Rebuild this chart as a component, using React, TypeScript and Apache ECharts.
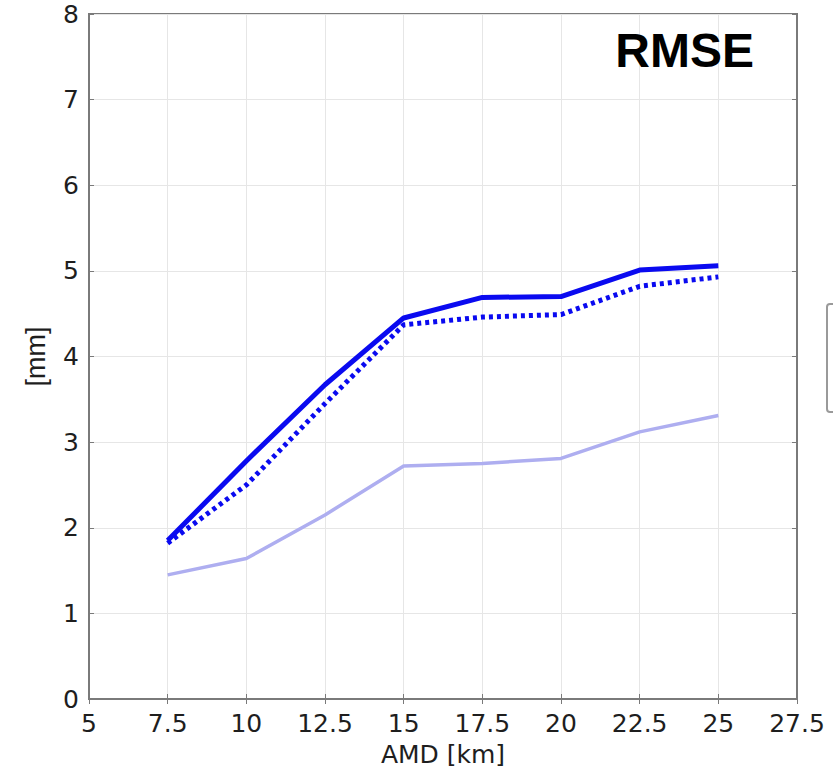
import React, { useEffect, useRef } from "react";
import * as echarts from "echarts";

const xValues = [7.5, 10, 12.5, 15, 17.5, 20, 22.5, 25];
const solidSeries = [1.85, 2.78, 3.67, 4.45, 4.69, 4.70, 5.01, 5.06];
const dottedSeries = [1.82, 2.50, 3.45, 4.37, 4.46, 4.49, 4.82, 4.93];
const lightSeries = [1.45, 1.64, 2.15, 2.72, 2.75, 2.81, 3.12, 3.31];

const titleText = "RMSE";
const xName = "AMD [km]";
const yName = "[mm]";

const tickFont = "DejaVu Sans";

export default function App() {
  const ref = useRef<HTMLDivElement>(null);
  useEffect(() => {
    if (!ref.current) return;
    const chart = echarts.init(ref.current, undefined, { renderer: "svg" });
    const pair = (ys: number[]) => xValues.map((x, i) => [x, ys[i]]);
    const axisLine = { show: true, lineStyle: { color: "#7a7a7a", width: 2 } };
    chart.setOption({
      animation: false,
      backgroundColor: "#ffffff",
      grid: {
        left: 89,
        right: 36,
        top: 14,
        bottom: 75,
        show: true,
        borderColor: "#7a7a7a",
        borderWidth: 2,
      },
      title: {
        text: titleText,
        right: 74,
        top: 21,
        textStyle: { fontFamily: "Liberation Sans", fontWeight: "bold", fontSize: 48, color: "#000" },
      },
      xAxis: [
        {
          type: "value",
          min: 5,
          max: 27.5,
          interval: 2.5,
          name: xName,
          nameLocation: "middle",
          nameGap: 43,
          nameTextStyle: { fontFamily: tickFont, fontSize: 25, color: "#1e1e1e" },
          axisLine,
          axisTick: { show: true, inside: true, length: 5, lineStyle: { color: "#7a7a7a" } },
          axisLabel: { fontFamily: tickFont, fontSize: 25, color: "#1e1e1e", margin: 12 },
          splitLine: { show: true, lineStyle: { color: "#e6e6e6", width: 1 } },
        },
        {
          type: "value",
          position: "top",
          min: 5,
          max: 27.5,
          interval: 2.5,
          axisLine,
          axisTick: { show: true, inside: true, length: 5, lineStyle: { color: "#7a7a7a" } },
          axisLabel: { show: false },
          splitLine: { show: false },
        },
      ],
      yAxis: [
        {
          type: "value",
          min: 0,
          max: 8,
          interval: 1,
          name: yName,
          nameLocation: "middle",
          nameGap: 40,
          nameRotate: 90,
          nameTextStyle: { fontFamily: "Liberation Sans", fontSize: 27, color: "#1e1e1e" },
          axisLine,
          axisTick: { show: true, inside: true, length: 5, lineStyle: { color: "#7a7a7a" } },
          axisLabel: { fontFamily: tickFont, fontSize: 25, color: "#1e1e1e", margin: 10 },
          splitLine: { show: true, lineStyle: { color: "#e6e6e6", width: 1 } },
        },
        {
          type: "value",
          position: "right",
          min: 0,
          max: 8,
          interval: 1,
          axisLine,
          axisTick: { show: true, inside: true, length: 5, lineStyle: { color: "#7a7a7a" } },
          axisLabel: { show: false },
          splitLine: { show: false },
        },
      ],
      graphic: [
        {
          type: "rect",
          shape: { x: 827, y: 304, width: 60, height: 108, r: 3 },
          style: { fill: "#ffffff", stroke: "#9a9a9a", lineWidth: 2 },
        },
      ],
      series: [
        {
          type: "line",
          data: pair(lightSeries),
          showSymbol: false,
          lineStyle: { color: "#aeaef0", width: 3.5 },
          z: 2,
        },
        {
          type: "line",
          data: pair(dottedSeries),
          showSymbol: false,
          lineStyle: { color: "#0a0af0", width: 5, type: [4, 4] },
          z: 3,
        },
        {
          type: "line",
          data: pair(solidSeries),
          showSymbol: false,
          lineStyle: { color: "#0a0af0", width: 5 },
          z: 4,
        },
      ],
    });
    return () => chart.dispose();
  }, []);
  return (
    <div
      ref={ref}
      style={{ position: "fixed", left: 0, top: 0, width: 833, height: 774 }}
    />
  );
}
